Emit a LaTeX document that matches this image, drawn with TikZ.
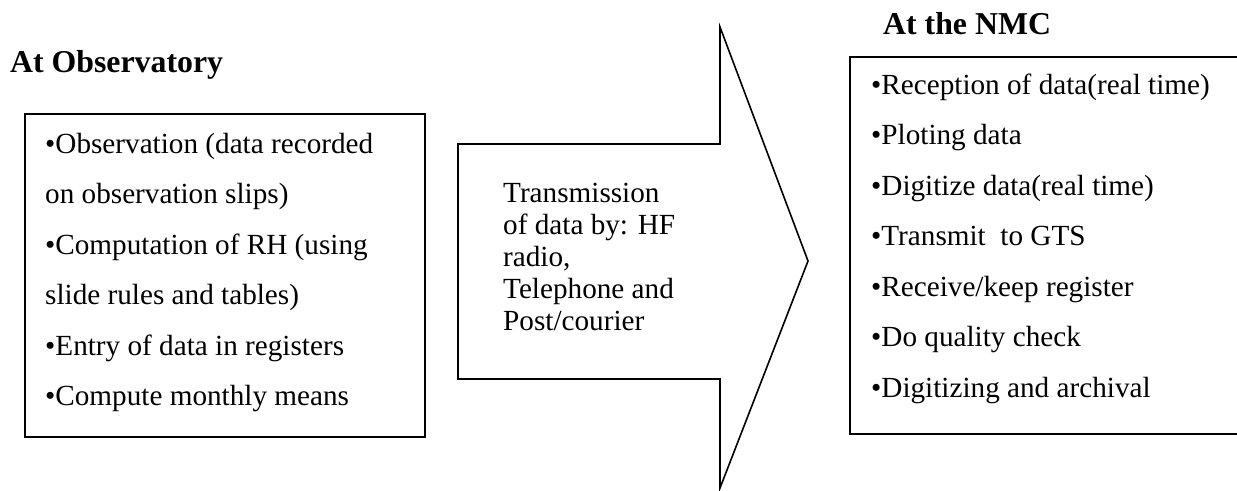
\documentclass[tikz,border=0pt]{standalone}
\usepackage{fontspec}
\setmainfont{Liberation Serif}
\begin{document}
\begin{tikzpicture}[x=1pt,y=-1pt,
  body/.style={anchor=base west,inner sep=0pt,font=\fontsize{29.2}{33}\selectfont},
  head/.style={anchor=base west,inner sep=0pt,font=\fontsize{31.8}{35}\selectfont\bfseries},
  frame/.style={draw=black,line width=1.6pt,line join=miter}]
\useasboundingbox (0,0) rectangle (1237,490);
% headings
\node[head] (h1) at (10,72) {At Observatory};
\node[head] (h2) at (883,34) {At the NMC};
% left box
\draw[frame] (25,114) rectangle (425,437);
\node[body] (a1) at (45,153) {•Observation (data recorded};
\node[body] (a2) at (45,203.5) {on observation slips)};
\node[body] (a3) at (45,254) {•Computation of RH (using};
\node[body] (a4) at (45,304.5) {slide rules and tables)};
\node[body] (a5) at (45,355) {•Entry of data in registers};
\node[body] (a6) at (45,405.5) {•Compute monthly means};
% arrow
\draw[frame] (458,144) -- (720,144) -- (720,27) -- (808,261) -- (720,488) -- (720,379) -- (458,379) -- cycle;
\node[body] (t1) at (503,202) {Transmission};
\node[body] (t2) at (503,234) {of data by: HF};
\node[body] (t3) at (503,266) {radio,};
\node[body] (t4) at (503,298) {Telephone and};
\node[body] (t5) at (503,330) {Post/courier};
% right box (open at the right edge)
\draw[frame] (1237,57) -- (850,57) -- (850,434) -- (1237,434);
\node[body] (b1) at (871,94) {•Reception of data(real time)};
\node[body] (b2) at (871,144.5) {•Ploting data};
\node[body] (b3) at (871,195) {•Digitize data(real time)};
\node[body] (b4) at (871,245.5) {•Transmit\ \ to GTS};
\node[body] (b5) at (871,296) {•Receive/keep register};
\node[body] (b6) at (871,346.5) {•Do quality check};
\node[body] (b7) at (871,397) {•Digitizing and archival};
\end{tikzpicture}
\end{document}
